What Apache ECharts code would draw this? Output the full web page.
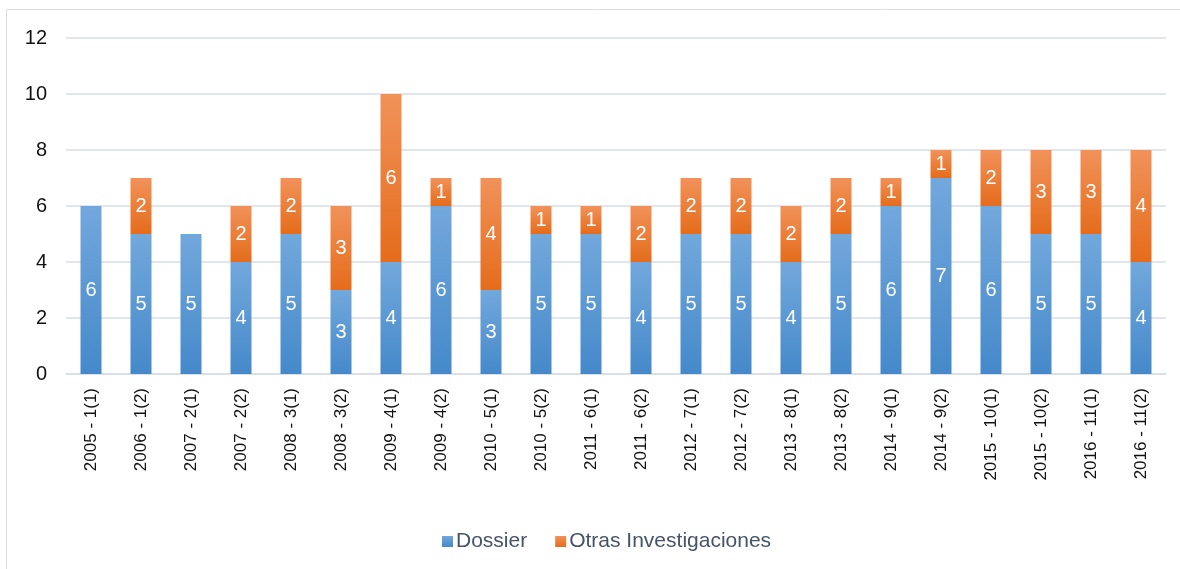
<!DOCTYPE html>
<html>
<head>
<meta charset="utf-8">
<script src="https://cdn.jsdelivr.net/npm/echarts@6/dist/echarts.min.js"></script>
<style>
  html, body { margin: 0; padding: 0; background: #fff; }
  #chart { width: 1180px; height: 569px; }
</style>
</head>
<body>
<div id="chart"></div>
<script>
// periodos (eje x)
const categories = [
  '2005 - 1(1)', '2006 - 1(2)', '2007 - 2(1)', '2007 - 2(2)', '2008 - 3(1)', '2008 - 3(2)',
  '2009 - 4(1)', '2009 - 4(2)', '2010 - 5(1)', '2010 - 5(2)', '2011 - 6(1)', '2011 - 6(2)',
  '2012 - 7(1)', '2012 - 7(2)', '2013 - 8(1)', '2013 - 8(2)', '2014 - 9(1)', '2014 - 9(2)',
  '2015 - 10(1)', '2015 - 10(2)', '2016 - 11(1)', '2016 - 11(2)'
]
const dossier = [6, 5, 5, 4, 5, 3, 4, 6, 3, 5, 5, 4, 5, 5, 4, 5, 6, 7, 6, 5, 5, 4]
const otras = [0, 2, 0, 2, 2, 3, 6, 1, 4, 1, 1, 2, 2, 2, 2, 2, 1, 1, 2, 3, 3, 4]
const yTicks = { min: 0, max: 12, interval: 2 }

const FONT = 'Arial, "Liberation Sans", sans-serif'

function grad(top, bottom) {
  return new echarts.graphic.LinearGradient(0, 0, 0, 1, [
    { offset: 0, color: top },
    { offset: 1, color: bottom },
  ])
}

const labelStyle = {
  show: true,
  position: 'inside',
  color: '#fff',
  fontSize: 20,
  fontFamily: FONT,
  formatter: (p) => (p.value ? p.value : ''),
}

const chart = echarts.init(document.getElementById('chart'))

chart.setOption({
  animation: false,
  textStyle: { fontFamily: FONT },
  graphic: [
    {
      type: 'rect',
      shape: { x: 6.5, y: 9.5, width: 1300, height: 700 },
      style: { fill: 'none', stroke: '#D9DEE6', lineWidth: 1 },
      silent: true,
    },
  ],
  grid: { left: 66, right: 14, top: 38, bottom: 195 },
  legend: {
    bottom: 12,
    left: 437,
    itemWidth: 11,
    itemHeight: 11,
    itemGap: 28,
    icon: 'rect',
    textStyle: { fontSize: 21, color: '#44546A', fontFamily: FONT, padding: [0, 0, 0, -2] },
    data: ['Dossier', 'Otras Investigaciones'],
  },
  xAxis: {
    type: 'category',
    data: categories,
    axisLine: { lineStyle: { color: '#D9DEE6', width: 1.5 } },
    axisTick: { show: false },
    axisLabel: { rotate: 90, fontSize: 17, color: '#111', margin: 14, interval: 0 },
  },
  yAxis: {
    type: 'value',
    min: yTicks.min,
    max: yTicks.max,
    interval: yTicks.interval,
    axisLine: { show: false },
    axisTick: { show: false },
    axisLabel: { fontSize: 20, color: '#111', margin: 19 },
    splitLine: { lineStyle: { color: '#D9DEE6', width: 1.5 } },
  },
  series: [
    {
      name: 'Dossier',
      type: 'bar',
      stack: 'total',
      barWidth: '42%',
      data: dossier,
      itemStyle: { color: grad('#72A8DC', '#4589CA') },
      label: labelStyle,
    },
    {
      name: 'Otras Investigaciones',
      type: 'bar',
      stack: 'total',
      barWidth: '42%',
      data: otras,
      itemStyle: { color: grad('#F1925A', '#E56C1B') },
      label: labelStyle,
    },
  ],
})
</script>
</body>
</html>
